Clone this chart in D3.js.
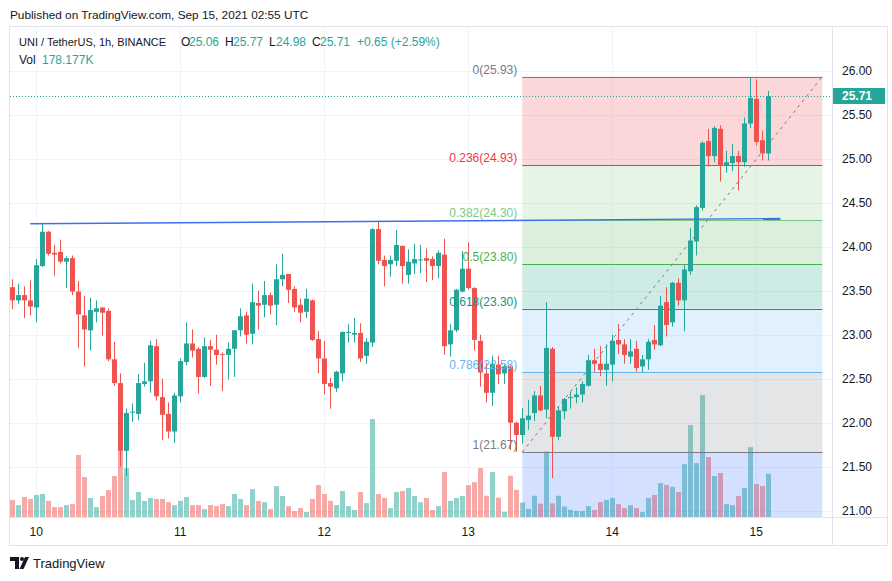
<!DOCTYPE html>
<html><head><meta charset="utf-8">
<script src="https://cdn.jsdelivr.net/npm/d3@7"></script>
<style>body{margin:0;background:#fff}svg{display:block;font-family:"Liberation Sans",Arial,sans-serif}</style>
</head><body><svg id="c" width="892" height="581"></svg>
<script>
// ---- data (hourly candles UNI/USDT, first candle Sep 9 20:00 UTC) ----
const opens  = [23.54,23.39,23.45,23.39,23.31,23.78,24.17,23.93,23.94,23.83,23.87,23.49,23.22,23.05,23.26,23.31,23.27,22.72,22.45,21.68,22.115,22.10,22.44,22.47,22.87,22.29,22.10,21.90,22.30,22.69,22.90,22.84,22.52,22.87,22.83,22.78,22.77,22.84,23.05,23.22,23.01,23.36,23.34,23.45,23.34,23.63,23.69,23.52,23.34,23.26,23.39,22.95,22.73,22.45,22.39,22.56,23.02,23.00,23.02,22.76,22.91,24.20,23.85,23.80,23.84,24.01,23.68,23.81,23.85,23.87,23.86,23.78,23.91,22.89,23.05,23.49,23.75,23.53,22.93,22.56,22.34,22.66,22.56,22.64,22.00,21.86,22.03,22.11,22.31,22.15,22.84,21.84,22.13,22.28,22.29,22.32,22.42,22.71,22.67,22.60,22.66,22.94,22.89,22.75,22.84,22.64,22.72,22.94,22.88,23.37,23.14,23.59,23.39,23.72,24.06,24.44,25.20,25.03,25.34,24.92,24.95,25.03,24.96,25.40,25.68,25.21,25.06];
const highs  = [23.63,23.58,23.55,23.62,23.86,24.27,24.18,24.02,24.08,23.89,23.90,23.61,23.44,23.42,23.39,23.31,23.30,22.92,22.56,22.16,22.22,22.55,22.68,22.93,22.95,22.50,22.23,22.34,22.73,23.14,23.06,22.86,22.97,22.94,23.00,22.80,22.91,23.05,23.30,23.26,23.58,23.50,23.61,23.48,23.80,23.92,23.69,23.55,23.41,23.52,23.40,23.04,22.93,22.51,22.59,23.04,23.12,23.19,23.13,22.96,24.21,24.29,23.90,23.90,24.19,24.01,23.97,24.03,24.02,23.98,23.89,23.96,24.09,23.12,23.52,23.95,24.05,23.54,23.00,22.68,22.76,22.76,22.66,22.65,22.01,22.17,22.26,22.36,22.42,23.37,22.86,22.18,22.28,22.35,22.40,22.47,22.77,22.84,22.87,22.89,23.00,23.12,22.95,22.95,22.93,22.77,22.95,23.11,23.44,23.54,23.60,23.64,23.79,24.21,24.47,25.20,25.34,25.37,25.38,25.09,25.17,25.09,25.47,25.93,25.90,25.32,25.77];
const lows   = [23.29,23.35,23.19,23.22,23.14,23.77,23.90,23.67,23.81,23.53,23.45,22.85,22.64,22.82,23.14,22.99,22.70,22.42,21.50,21.39,22.01,22.03,22.41,22.34,22.25,21.80,21.82,21.77,22.23,22.65,22.74,22.33,22.51,22.42,22.66,22.36,22.49,22.52,22.98,22.90,22.89,23.06,23.20,23.23,23.11,23.55,23.36,23.26,23.14,23.19,22.93,22.56,22.32,22.16,22.35,22.47,22.91,22.91,22.69,22.67,22.86,23.80,23.55,23.66,23.78,23.58,23.58,23.69,23.70,23.60,23.62,23.64,22.77,22.75,23.03,23.48,23.51,22.82,22.41,22.23,22.19,22.44,22.44,21.69,21.67,21.76,21.92,22.02,22.13,22.05,21.37,21.80,22.04,22.16,22.22,22.23,22.41,22.58,22.53,22.42,22.47,22.78,22.67,22.67,22.58,22.57,22.60,22.83,22.87,22.98,23.09,23.33,23.04,23.68,23.90,24.41,24.91,24.96,24.74,24.84,24.86,24.64,24.91,25.35,25.15,24.98,24.98];
const closes = [23.39,23.45,23.39,23.32,23.79,24.17,23.92,23.91,23.83,23.87,23.49,23.23,23.06,23.28,23.30,23.25,22.72,22.45,21.68,22.11,22.125,22.45,22.47,22.88,22.30,22.09,21.90,22.31,22.70,22.90,22.82,22.52,22.87,22.83,22.77,22.77,22.84,23.05,23.21,23.00,23.37,23.33,23.45,23.33,23.63,23.68,23.51,23.31,23.25,23.41,22.94,22.73,22.44,22.41,22.58,23.03,23.03,23.02,22.73,22.92,24.20,23.84,23.78,23.85,24.02,23.78,23.83,23.86,23.855,23.84,23.78,23.93,22.87,23.05,23.51,23.75,23.53,22.94,22.57,22.34,22.67,22.55,22.64,22.00,21.86,22.05,22.08,22.31,22.14,22.85,21.84,22.14,22.27,22.29,22.32,22.44,22.71,22.67,22.60,22.67,22.93,22.89,22.77,22.81,22.62,22.72,22.92,22.89,23.33,23.11,23.59,23.39,23.74,24.07,24.45,25.18,25.03,25.35,24.92,24.96,25.03,24.96,25.40,25.69,25.19,25.06,25.71];
const volumes = [72,51,84,76,92,96,68,43,43,51,55,254,165,80,43,88,112,169,271,201,72,104,68,80,76,76,63,51,68,84,51,51,35,51,47,55,47,96,76,51,116,68,63,35,128,88,47,27,39,23,76,132,96,68,51,108,47,31,104,59,400,96,80,39,104,108,120,88,63,80,31,47,185,68,80,88,132,144,201,89,185,81,24,170,113,61,36,89,57,268,58,89,45,32,28,27,47,31,63,72,80,55,39,51,39,23,80,92,140,132,125,104,217,375,221,497,246,169,181,55,51,88,120,286,136,128,178.177];
const priceTicks = [21.0,21.5,22.0,22.5,23.0,23.5,24.0,24.5,25.0,25.5,26.0];
const dayTicks = ["10","11","12","13","14","15"];
const fibLevels = [0,0.236,0.382,0.5,0.618,0.786,1,1.618];
const fibColors = ["#787b86","#f23645","#81c784","#4caf50","#089981","#64b5f6","#787b86","#2962ff"];
const fibAnchorLow = {t: Date.UTC(2021,8,13,9), p: 21.668};
const fibAnchorHigh = {t: Date.UTC(2021,8,15,11), p: 25.932};
const blueLine = [{t: Date.UTC(2021,8,9,23), p: 24.26},{t: Date.UTC(2021,8,15,4), p: 24.32}];
const lastPrice = 25.71;

const startTime = Date.UTC(2021,8,9,20);
const candles = opens.map((o,i)=>({t:new Date(startTime+i*3600e3),o,h:highs[i],l:lows[i],c:closes[i],v:volumes[i]}));

const UP="#26a69a", DOWN="#ef5350";
const pane = {l:10,r:832,t:27,b:518};
const svg = d3.select("#c");

const x = d3.scaleUtc().domain([new Date(Date.UTC(2021,8,10)), new Date(Date.UTC(2021,8,15))]).range([36.3,756.3]);
const y = d3.scaleLinear().domain([21,26]).range([510.7,70.7]);
const yv = d3.scaleLinear().domain([0,500]).range([517.7,394.3]);

svg.append("defs").append("clipPath").attr("id","pc").append("rect")
  .attr("x",pane.l).attr("y",pane.t).attr("width",pane.r-pane.l).attr("height",pane.b-pane.t);

// grid
const g = svg.append("g");
g.selectAll(".hg").data(priceTicks).join("line")
  .attr("x1",pane.l).attr("x2",pane.r).attr("y1",d=>Math.round(y(d))+0.5).attr("y2",d=>Math.round(y(d))+0.5)
  .attr("stroke","#f0f3fa");
const days = d3.utcDay.range(new Date(Date.UTC(2021,8,10)), new Date(Date.UTC(2021,8,15,1)));
g.selectAll(".vg").data(days).join("line")
  .attr("x1",d=>Math.round(x(d))+0.5).attr("x2",d=>Math.round(x(d))+0.5).attr("y1",pane.t).attr("y2",pane.b)
  .attr("stroke","#f0f3fa");

const plot = svg.append("g").attr("clip-path","url(#pc)");
// volume
plot.append("g").selectAll("rect").data(candles).join("rect")
  .attr("x",d=>Math.round(x(d.t))-2).attr("width",5)
  .attr("y",d=>yv(d.v)).attr("height",d=>yv(0)-yv(d.v))
  .attr("fill",d=>d.c>=d.o?"rgba(38,166,154,0.5)":"rgba(239,83,80,0.5)");

// fib fills + lines
const fx1 = x(new Date(fibAnchorLow.t)), fx2 = x(new Date(fibAnchorHigh.t));
const fibPrice = l => fibAnchorHigh.p - l*(fibAnchorHigh.p - fibAnchorLow.p);
const fib = plot.append("g");
for(let i=0;i<fibLevels.length-1;i++){
  const a=y(fibPrice(fibLevels[i])), b=y(fibPrice(fibLevels[i+1]));
  fib.append("rect").attr("x",fx1).attr("width",fx2-fx1).attr("y",a).attr("height",b-a)
    .attr("fill",fibColors[i+1]).attr("fill-opacity",0.2);
}
fib.selectAll("line").data(fibLevels).join("line")
  .attr("x1",fx1).attr("x2",fx2)
  .attr("y1",d=>Math.round(y(fibPrice(d)))+0.5).attr("y2",d=>Math.round(y(fibPrice(d)))+0.5)
  .attr("stroke",(d,i)=>fibColors[i]).attr("stroke-width",1);

// candles
const cg = plot.append("g");
cg.selectAll("line").data(candles).join("line")
  .attr("x1",d=>Math.round(x(d.t))+0.5).attr("x2",d=>Math.round(x(d.t))+0.5)
  .attr("y1",d=>y(d.h)).attr("y2",d=>y(d.l))
  .attr("stroke",d=>d.c>=d.o?UP:DOWN);
cg.selectAll("rect").data(candles).join("rect")
  .attr("x",d=>Math.round(x(d.t))-2).attr("width",5)
  .attr("y",d=>y(Math.max(d.o,d.c)))
  .attr("height",d=>Math.max(1,Math.abs(y(d.o)-y(d.c))))
  .attr("fill",d=>d.c>=d.o?UP:DOWN);

// blue trend line
plot.append("line")
  .attr("x1",x(new Date(blueLine[0].t))).attr("y1",y(blueLine[0].p))
  .attr("x2",x(new Date(blueLine[1].t))).attr("y2",y(blueLine[1].p))
  .attr("stroke","#3d6ef3").attr("stroke-width",1.4);

// fib dashed diagonal
plot.append("line").attr("x1",fx1).attr("y1",y(fibAnchorLow.p)).attr("x2",fx2).attr("y2",y(fibAnchorHigh.p))
  .attr("stroke","#787b86").attr("stroke-dasharray","3,4").attr("stroke-width",1);

// last price dotted line
plot.append("line").attr("x1",pane.l).attr("x2",pane.r)
  .attr("y1",Math.round(y(lastPrice))+0.5).attr("y2",Math.round(y(lastPrice))+0.5)
  .attr("stroke",UP).attr("stroke-dasharray","1,2");

// fib labels
plot.append("g").selectAll("text").data(fibLevels.slice(0,7)).join("text")
  .attr("x",fx1-5).attr("y",d=>y(fibPrice(d))-3).attr("text-anchor","end")
  .attr("font-size",12).attr("fill",(d,i)=>fibColors[i])
  .text(d=>`${d}(${fibPrice(d).toFixed(2)})`);

// frame
const fr = svg.append("g").attr("stroke","#e0e3eb").attr("fill","none");
fr.append("rect").attr("x",9.5).attr("y",26.5).attr("width",878).attr("height",519);
fr.append("line").attr("x1",832.5).attr("x2",832.5).attr("y1",26.5).attr("y2",545.5);
fr.append("line").attr("x1",9.5).attr("x2",887.5).attr("y1",517.5).attr("y2",517.5);

// price axis
svg.append("g").selectAll("text").data(priceTicks).join("text")
  .attr("x",842).attr("y",d=>y(d)+4).attr("font-size",12).attr("fill","#131722")
  .text(d=>d3.format(".2f")(d));
svg.append("rect").attr("x",833).attr("y",Math.round(y(lastPrice))-8).attr("width",52).attr("height",16).attr("fill",UP);
svg.append("text").attr("x",842).attr("y",Math.round(y(lastPrice))+4).attr("font-size",12).attr("font-weight","bold")
  .attr("fill","#fff").text(d3.format(".2f")(lastPrice));

// time axis
svg.append("g").selectAll("text").data(days).join("text")
  .attr("x",d=>x(d)).attr("y",536).attr("text-anchor","middle").attr("font-size",12).attr("fill","#131722")
  .text((d,i)=>dayTicks[i]);

// header
svg.append("text").attr("x",10).attr("y",19).attr("font-size",11.8).attr("fill","#131722")
  .text("Published on TradingView.com, Sep 15, 2021 02:55 UTC");
const leg = [
  {x:19,t:"UNI / TetherUS, 1h, BINANCE",c:"#131722",s:11},
  {x:181,t:"O",c:"#131722",s:12},{x:189,t:"25.06",c:UP,s:12},
  {x:225,t:"H",c:"#131722",s:12},{x:233,t:"25.77",c:UP,s:12},
  {x:269,t:"L",c:"#131722",s:12},{x:276,t:"24.98",c:UP,s:12},
  {x:312,t:"C",c:"#131722",s:12},{x:320,t:"25.71",c:UP,s:12},
  {x:357,t:"+0.65 (+2.59%)",c:UP,s:12}
];
svg.append("g").selectAll("text").data(leg).join("text")
  .attr("x",d=>d.x).attr("y",46).attr("font-size",d=>d.s).attr("fill",d=>d.c).text(d=>d.t);
svg.append("text").attr("x",19).attr("y",64).attr("font-size",12).attr("fill","#131722").text("Vol");
svg.append("text").attr("x",42).attr("y",64).attr("font-size",12).attr("fill",UP).text("178.177K");

// footer logo
const lg = svg.append("g").attr("fill","#131722");
lg.append("path").attr("d","M10,557H19V569H15V561H10Z");
lg.append("circle").attr("cx",22).attr("cy",559).attr("r",2);
lg.append("path").attr("d","M19.5,569L25,557H29L23.5,569Z");
svg.append("text").attr("x",33).attr("y",568).attr("font-size",13).attr("fill","#131722").text("TradingView");
</script></body></html>
